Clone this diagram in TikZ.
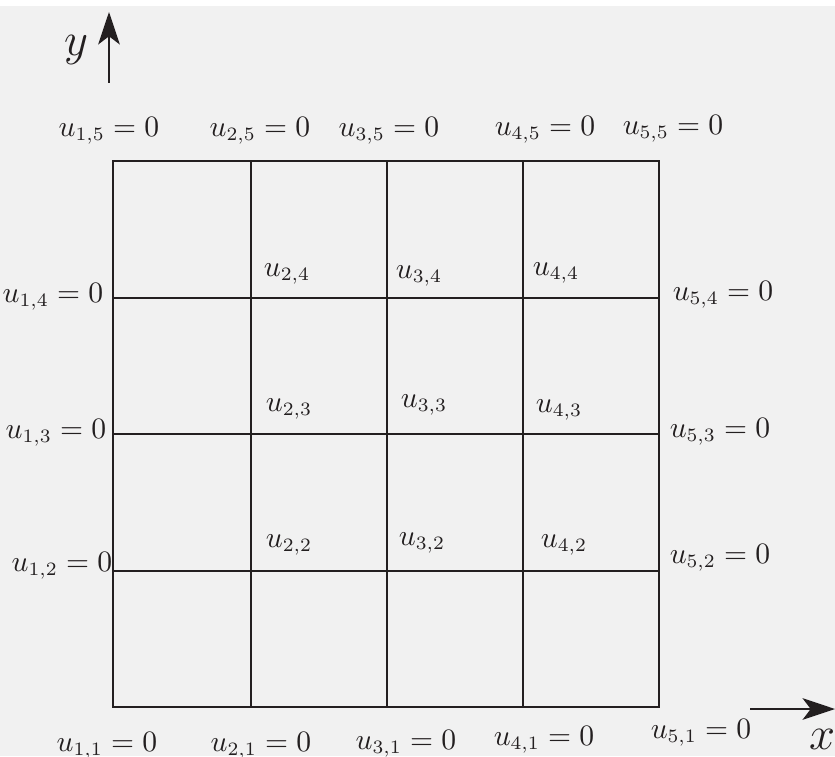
\documentclass[tikz,border=0pt]{standalone}
\usepackage{amsmath}
\usepackage{xcolor}
\usetikzlibrary{arrows.meta}
\definecolor{bg}{HTML}{F1F1F1}
\definecolor{ink}{HTML}{231F20}

\begin{document}
\begin{tikzpicture}[x=0.37pt,y=-0.37pt,
  gridline/.style={ink, line width=0.9pt},
  axis/.style={ink, line width=0.9pt, -{Stealth[length=12pt,width=8pt,inset=3pt]}},
  lab/.style={inner sep=0pt, text=ink, font=\fontsize{10.5}{12}\selectfont},
  axlab/.style={inner sep=0pt, text=ink, font=\fontsize{16}{18}\selectfont}]
\fill[white] (0,0) rectangle (835,756);
\fill[bg] (0,6) rectangle (835,756);
\useasboundingbox (0,0) rectangle (835,756);
% grid points
\foreach \i/\x in {1/113,2/251,3/387,4/523,5/659}
  \foreach \j/\y in {1/707,2/571,3/434,4/298,5/161}
    \coordinate (g\i\j) at (\x,\y);
% mesh
\draw[gridline] (g11) rectangle (g55);
\foreach \k in {2,3,4} {
  \draw[gridline] (g\k1) -- (g\k5);
  \draw[gridline] (g1\k) -- (g5\k);
}
% axes
\coordinate (ybot) at (109,83);
\coordinate (ytop) at (109,12);
\coordinate (xleft) at (750,709);
\coordinate (xright) at (835,709);
\draw[axis] (ybot) -- (ytop);
\draw[axis] (xleft) -- (xright);
\node[axlab] (ylab) at (76,50) {$y$};
\node[axlab] (xlab) at (822,739) {$x$};
% boundary values
\node[lab] (u15) at (109,131) {$u_{1,5}=0$};
\node[lab] (u25) at (260,131) {$u_{2,5}=0$};
\node[lab] (u35) at (389,131) {$u_{3,5}=0$};
\node[lab] (u45) at (545,130) {$u_{4,5}=0$};
\node[lab] (u55) at (673,129) {$u_{5,5}=0$};
\node[lab] (u14) at (53,297) {$u_{1,4}=0$};
\node[lab] (u13) at (56,433) {$u_{1,3}=0$};
\node[lab] (u12) at (62,566) {$u_{1,2}=0$};
\node[lab] (u54) at (723,295) {$u_{5,4}=0$};
\node[lab] (u53) at (720,432) {$u_{5,3}=0$};
\node[lab] (u52) at (720,558) {$u_{5,2}=0$};
\node[lab] (u11) at (107,746) {$u_{1,1}=0$};
\node[lab] (u21) at (261,746) {$u_{2,1}=0$};
\node[lab] (u31) at (406,744) {$u_{3,1}=0$};
\node[lab] (u41) at (544,740) {$u_{4,1}=0$};
\node[lab] (u51) at (701,733) {$u_{5,1}=0$};
% unknowns
\node[lab] (u24) at (287,274) {$u_{2,4}$};
\node[lab] (u34) at (419,276) {$u_{3,4}$};
\node[lab] (u44) at (556,273) {$u_{4,4}$};
\node[lab] (u23) at (289,409) {$u_{2,3}$};
\node[lab] (u33) at (424,405) {$u_{3,3}$};
\node[lab] (u43) at (559,410) {$u_{4,3}$};
\node[lab] (u22) at (289,545) {$u_{2,2}$};
\node[lab] (u32) at (422,543) {$u_{3,2}$};
\node[lab] (u42) at (564,545) {$u_{4,2}$};
\end{tikzpicture}
\end{document}
